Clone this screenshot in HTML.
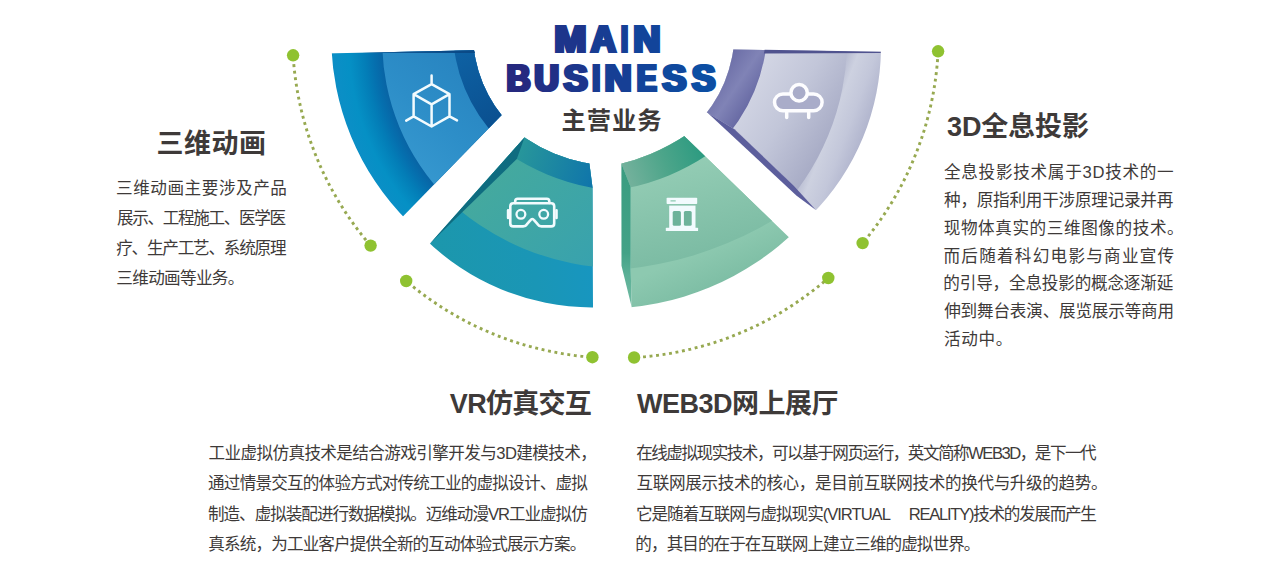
<!DOCTYPE html>
<html lang="zh-CN"><head><meta charset="utf-8"><title>MAIN BUSINESS 主营业务</title>
<style>
html,body{margin:0;padding:0;background:#fff}
body{width:1280px;height:580px;position:relative;overflow:hidden;font-family:"Liberation Sans",sans-serif}
svg{position:absolute;left:0;top:0;display:block}
.t{position:absolute;color:transparent;white-space:normal;overflow:hidden;margin:0}
</style></head><body>
<svg width="1280" height="580" viewBox="0 0 1280 580">
<defs>
<clipPath id="w1"><polygon points="566.6,48.4 190.0,56.5 150.0,420.0 282.1,340.5"/></clipPath>
<radialGradient id="g1o" gradientUnits="userSpaceOnUse" cx="606.7" cy="40.8" r="282"><stop offset="0.7961" stop-color="#0864a5"/><stop offset="0.8262" stop-color="#056fae"/><stop offset="0.8582" stop-color="#037db7"/><stop offset="0.8865" stop-color="#0487be"/><stop offset="0.9149" stop-color="#0590c5"/><stop offset="0.9574" stop-color="#0a8fc6"/><stop offset="1.0000" stop-color="#0e8cc4"/></radialGradient>
<linearGradient id="g1m" gradientUnits="userSpaceOnUse" x1="490" y1="80" x2="395" y2="190"><stop offset="0" stop-color="#2884c0"/><stop offset="0.45" stop-color="#2d8ec8"/><stop offset="1" stop-color="#3a9cd2"/></linearGradient>
<linearGradient id="g1i" gradientUnits="userSpaceOnUse" x1="455" y1="50" x2="500" y2="125"><stop offset="0" stop-color="#0e62a4"/><stop offset="1" stop-color="#0a4f8f"/></linearGradient>
<clipPath id="w2"><polygon points="552.9,105.7 335.5,349.7 593.0,420.0 593.0,308.0 592.5,187.6 589.4,163.4 586.8,143.0"/></clipPath>
<linearGradient id="g2o" gradientUnits="userSpaceOnUse" x1="440" y1="290" x2="600" y2="270"><stop offset="0" stop-color="#1c97ac"/><stop offset="0.6" stop-color="#1a96b6"/><stop offset="1" stop-color="#1796c1"/></linearGradient>
<linearGradient id="g2m" gradientUnits="userSpaceOnUse" x1="480" y1="160" x2="590" y2="270"><stop offset="0" stop-color="#46aa9c"/><stop offset="1" stop-color="#38a2ae"/></linearGradient>
<linearGradient id="g2i" gradientUnits="userSpaceOnUse" x1="517" y1="150" x2="593" y2="175"><stop offset="0" stop-color="#28979a"/><stop offset="1" stop-color="#1076aa"/></linearGradient>
<clipPath id="w3"><polygon points="621.4,163.5 630.7,187.0 630.7,268.0 631.6,306.8 631.6,340.0 841.3,340.0 841.3,287.9 663.8,116.2 621.4,116.2"/></clipPath>
<linearGradient id="g3o" gradientUnits="userSpaceOnUse" x1="700" y1="250" x2="720" y2="295"><stop offset="0" stop-color="#8dc9b0"/><stop offset="1" stop-color="#7abba2"/></linearGradient>
<linearGradient id="g3m" gradientUnits="userSpaceOnUse" x1="690" y1="160" x2="715" y2="255"><stop offset="0" stop-color="#93ccb4"/><stop offset="1" stop-color="#7bbba3"/></linearGradient>
<linearGradient id="g3i" gradientUnits="userSpaceOnUse" x1="625" y1="180" x2="705" y2="150"><stop offset="0" stop-color="#76b29d"/><stop offset="0.5" stop-color="#4da58a"/><stop offset="1" stop-color="#2a9a80"/></linearGradient>
<linearGradient id="g3s" gradientUnits="userSpaceOnUse" x1="0" y1="165" x2="0" y2="307"><stop offset="0" stop-color="#3a9c80"/><stop offset="0.62" stop-color="#43a287"/><stop offset="0.78" stop-color="#5cb097"/><stop offset="1" stop-color="#72bba3"/></linearGradient>
<clipPath id="w4"><polygon points="689.0,48.8 910.4,52.3 910.0,262.0 850.0,262.0 816.2,210.3 794.1,185.9 734.5,129.3 707.8,112.9 689.1,101.4"/></clipPath>
<linearGradient id="g4o" gradientUnits="userSpaceOnUse" x1="815" y1="120" x2="868" y2="140"><stop offset="0" stop-color="#abafc8"/><stop offset="0.3" stop-color="#cdd1e0"/><stop offset="0.6" stop-color="#c3c7da"/><stop offset="1" stop-color="#acb0ca"/></linearGradient>
<linearGradient id="g4m" gradientUnits="userSpaceOnUse" x1="745" y1="80" x2="835" y2="135"><stop offset="0" stop-color="#d4d7e5"/><stop offset="0.5" stop-color="#c2c6d9"/><stop offset="1" stop-color="#a7abc5"/></linearGradient>
<linearGradient id="g4i" gradientUnits="userSpaceOnUse" x1="715" y1="70" x2="760" y2="100"><stop offset="0" stop-color="#686aa4"/><stop offset="0.5" stop-color="#8083b6"/><stop offset="1" stop-color="#61639f"/></linearGradient>
<linearGradient id="gt" gradientUnits="userSpaceOnUse" x1="508" y1="0" x2="717" y2="0"><stop offset="0" stop-color="#27267d"/><stop offset="0.45" stop-color="#183c92"/><stop offset="1" stop-color="#0a50a5"/></linearGradient>
</defs>
<rect width="1280" height="580" fill="#fff"/>
<g clip-path="url(#w1)"><path fill-rule="evenodd" d="M331.2 36.6a261.0 261.0 0 1 0 522.0 0a261.0 261.0 0 1 0 -522.0 0ZM473.0 33.9a129.1 129.1 0 1 0 258.2 0a129.1 129.1 0 1 0 -258.2 0Z" fill="url(#g1o)"/><path fill-rule="evenodd" d="M382.2 40.8a224.5 224.5 0 1 0 449.0 0a224.5 224.5 0 1 0 -449.0 0ZM473.0 33.9a129.1 129.1 0 1 0 258.2 0a129.1 129.1 0 1 0 -258.2 0Z" fill="url(#g1m)"/><path fill-rule="evenodd" d="M452.9 29.0a155.7 155.7 0 1 0 311.4 0a155.7 155.7 0 1 0 -311.4 0ZM473.0 33.9a129.1 129.1 0 1 0 258.2 0a129.1 129.1 0 1 0 -258.2 0Z" fill="url(#g1i)"/></g>
<polygon points="362.0,52.8 474.0,50.3 475.0,53.1" fill="#0a4a87"/>
<g clip-path="url(#w2)"><path fill-rule="evenodd" d="M354.1 69.5a237.9 237.9 0 1 0 475.8 0a237.9 237.9 0 1 0 -475.8 0ZM457.0 8.3a157.1 157.1 0 1 0 314.2 0a157.1 157.1 0 1 0 -314.2 0Z" fill="url(#g2o)"/><path fill-rule="evenodd" d="M366.2 12.7a255.4 255.4 0 1 0 510.8 0a255.4 255.4 0 1 0 -510.8 0ZM457.0 8.3a157.1 157.1 0 1 0 314.2 0a157.1 157.1 0 1 0 -314.2 0Z" fill="url(#g2m)"/><path fill-rule="evenodd" d="M410.7 -29.6a220.9 220.9 0 1 0 441.8 0a220.9 220.9 0 1 0 -441.8 0ZM457.0 8.3a157.1 157.1 0 1 0 314.2 0a157.1 157.1 0 1 0 -314.2 0Z" fill="url(#g2i)"/></g>
<polygon points="524.5,137.5 516.8,159.0 430.0,243.6" fill="#0f6c80"/>
<g clip-path="url(#w3)"><path fill-rule="evenodd" d="M328.1 32.8a275.7 275.7 0 1 0 551.4 0a275.7 275.7 0 1 0 -551.4 0ZM358.8 -40.4a210.6 210.6 0 1 0 421.2 0a210.6 210.6 0 1 0 -421.2 0Z" fill="url(#g3o)"/><path fill-rule="evenodd" d="M222.5 -93.8a364.9 364.9 0 1 0 729.8 0a364.9 364.9 0 1 0 -729.8 0ZM358.8 -40.4a210.6 210.6 0 1 0 421.2 0a210.6 210.6 0 1 0 -421.2 0Z" fill="url(#g3m)"/><path fill-rule="evenodd" d="M360.2 -30.9a223.3 223.3 0 1 0 446.6 0a223.3 223.3 0 1 0 -446.6 0ZM358.8 -40.4a210.6 210.6 0 1 0 421.2 0a210.6 210.6 0 1 0 -421.2 0Z" fill="url(#g3i)"/></g>
<polygon points="621.4,163.5 630.7,187.0 630.7,268.0 631.6,306.8 621.5,265.7" fill="url(#g3s)"/>
<g clip-path="url(#w4)"><path fill-rule="evenodd" d="M404.2 46.4a238.4 238.4 0 1 0 476.8 0a238.4 238.4 0 1 0 -476.8 0ZM469.5 31.7a132.5 132.5 0 1 0 265.0 0a132.5 132.5 0 1 0 -265.0 0Z" fill="url(#g4o)"/><path fill-rule="evenodd" d="M347.3 40.2a249.9 249.9 0 1 0 499.8 0a249.9 249.9 0 1 0 -499.8 0ZM469.5 31.7a132.5 132.5 0 1 0 265.0 0a132.5 132.5 0 1 0 -265.0 0Z" fill="url(#g4m)"/><path fill-rule="evenodd" d="M419.5 24.4a174.1 174.1 0 1 0 348.2 0a174.1 174.1 0 1 0 -348.2 0ZM469.5 31.7a132.5 132.5 0 1 0 265.0 0a132.5 132.5 0 1 0 -265.0 0Z" fill="url(#g4i)"/></g>
<polygon points="707.8,112.9 734.5,129.3 794.1,185.9 816.2,210.3 796.6,195.7" fill="#5c5e9c"/>
<polygon points="764.6,49.7 880.9,51.8 880.6,53.1 763.9,53.5" fill="#50538f"/>
<path d="M293.1 55.3A323.0 323.0 0 0 0 370.6 245.6" fill="none" stroke="#97a951" stroke-width="2.9" stroke-dasharray="2.9 3.65" stroke-dashoffset="-9"/>
<circle cx="293.1" cy="55.3" r="6.2" fill="#8fc231"/>
<circle cx="370.6" cy="245.6" r="6.2" fill="#8fc231"/>
<path d="M406.2 281.0A323.0 323.0 0 0 0 592.4 357.2" fill="none" stroke="#97a951" stroke-width="2.9" stroke-dasharray="2.9 3.65" stroke-dashoffset="-9"/>
<circle cx="406.2" cy="281.0" r="6.2" fill="#8fc231"/>
<circle cx="592.4" cy="357.2" r="6.2" fill="#8fc231"/>
<path d="M634.1 357.5A323.0 323.0 0 0 0 828.3 278.0" fill="none" stroke="#97a951" stroke-width="2.9" stroke-dasharray="2.9 3.65" stroke-dashoffset="-9"/>
<circle cx="634.1" cy="357.5" r="6.2" fill="#8fc231"/>
<circle cx="828.3" cy="278.0" r="6.2" fill="#8fc231"/>
<path d="M862.6 243.1A323.0 323.0 0 0 0 938.1 51.3" fill="none" stroke="#97a951" stroke-width="2.9" stroke-dasharray="2.9 3.65" stroke-dashoffset="-9"/>
<circle cx="862.6" cy="243.1" r="6.2" fill="#8fc231"/>
<circle cx="938.1" cy="51.3" r="6.2" fill="#8fc231"/>
<g fill="none" stroke="#f2fbfe" stroke-width="2.5" stroke-linecap="round" stroke-linejoin="round"><path d="M431.6 84.1L449.5 94.2V116.3L431.6 126.5L413.6 116.3V94.2ZM413.6 94.2L431.6 104.4L449.5 94.2M431.6 104.4V126.5M431.6 75.4V84.1M413.6 116.3L406.2 120.6M449.5 116.3L457 120.4"/></g>
<g fill="none" stroke="#f2fbfe" stroke-width="2.6" stroke-linejoin="round" stroke-linecap="round"><path d="M513.3 203.3H551.2Q554.2 203.3 554.2 206.3V223.4Q554.2 226.4 551.2 226.4H541.5Q539 226.4 537.6 224.2L534.3 220.4Q532.3 217.6 530.3 220.4L527 224.2Q525.6 226.4 523.1 226.4H513.3Q510.3 226.4 510.3 223.4V206.3Q510.3 203.3 513.3 203.3Z"/><path d="M515.2 203V201.2Q515.2 198.7 517.7 198.7H546.8Q549.3 198.7 549.3 201.2V203"/><path d="M508.1 210.3V218M556.5 210.3V218"/><circle cx="520.9" cy="214.3" r="4.4" stroke-width="2.3"/><circle cx="543.7" cy="214.3" r="4.4" stroke-width="2.3"/></g>
<g fill="#f2fbfe"><rect x="666.6" y="197.8" width="30.6" height="6.2" rx="0.8"/><rect x="669.2" y="205.6" width="26.3" height="22.6"/><rect x="665.8" y="227.8" width="32.3" height="3.2" rx="0.6"/></g><rect x="670.5" y="200.1" width="5.2" height="1.5" fill="#9fd2be"/><rect x="672.7" y="211.1" width="8.2" height="14.7" rx="1.5" fill="#6db39b"/><rect x="683.9" y="211.1" width="7.8" height="14.7" rx="1.5" fill="#6db39b"/>
<g stroke="#fdfdff" stroke-width="3.5" fill="#a9acc9" stroke-linecap="round"><rect x="774.5" y="93.9" width="47.6" height="16.9" rx="8.45"/><circle cx="799.1" cy="92.8" r="8.2"/><path d="M786.7 112.4V117.6M808.7 112.4V117.6" fill="none"/></g>
<g font-family="Liberation Sans, sans-serif" font-weight="700" font-size="36.3" stroke-width="2.2" stroke-linejoin="miter" stroke-miterlimit="2.5"><text id="t1" y="51.9"><tspan x="553.50" textLength="31.79" lengthAdjust="spacingAndGlyphs" fill="#1d358b" stroke="#1d358b">M</tspan><tspan x="589.99" textLength="24.78" lengthAdjust="spacingAndGlyphs" fill="#183d93" stroke="#183d93">A</tspan><tspan x="620.21" textLength="6.79" lengthAdjust="spacingAndGlyphs" fill="#154096" stroke="#154096">I</tspan><tspan x="632.54" textLength="26.84" lengthAdjust="spacingAndGlyphs" fill="#12449a" stroke="#12449a">N</tspan></text><use href="#t1" x="1.9"/><text id="t2" y="90.8"><tspan x="505.69" textLength="23.91" lengthAdjust="spacingAndGlyphs" fill="#25297f" stroke="#25297f">B</tspan><tspan x="533.50" textLength="24.34" lengthAdjust="spacingAndGlyphs" fill="#212f86" stroke="#212f86">U</tspan><tspan x="562.85" textLength="23.76" lengthAdjust="spacingAndGlyphs" fill="#1c368c" stroke="#1c368c">S</tspan><tspan x="591.62" textLength="7.47" lengthAdjust="spacingAndGlyphs" fill="#193b91" stroke="#193b91">I</tspan><tspan x="603.85" textLength="26.73" lengthAdjust="spacingAndGlyphs" fill="#163f95" stroke="#163f95">N</tspan><tspan x="636.03" textLength="19.53" lengthAdjust="spacingAndGlyphs" fill="#12449a" stroke="#12449a">E</tspan><tspan x="661.55" textLength="23.76" lengthAdjust="spacingAndGlyphs" fill="#0f499e" stroke="#0f499e">S</tspan><tspan x="691.05" textLength="23.25" lengthAdjust="spacingAndGlyphs" fill="#0c4ea3" stroke="#0c4ea3">S</tspan></text><use href="#t2" x="1.9"/></g>
<g fill="#3e3a39" font-family="'Liberation Sans','Noto Sans CJK SC',sans-serif">
<g font-size="27" font-weight="bold">
<text x="156.6" y="152.8" textLength="109.4">三维动画</text>
<text x="947" y="135.7" textLength="141.9">3D全息投影</text>
<text x="449.83" y="413.2" textLength="142">VR仿真交互</text>
<text x="636.89" y="413.2" textLength="201.7">WEB3D网上展厅</text>
</g>
<text x="561.61" y="128.6" font-size="24.3" font-weight="bold" textLength="99.9">主营业务</text>
<g font-size="16.6">
<text x="116.02" y="193.6" textLength="170.9">三维动画主要涉及产品</text>
<text x="116.89" y="223.8" textLength="169.1">展示、工程施工、医学医</text>
<text x="116.19" y="254" textLength="170.4">疗、生产工艺、系统原理</text>
<text x="116.32" y="284.2" textLength="128">三维动画等业务。</text>
<text x="943.97" y="178" textLength="229.7">全息投影技术属于3D技术的一</text>
<text x="944.02" y="205.87" textLength="229.3">种，原指利用干涉原理记录并再</text>
<text x="943.69" y="233.74" textLength="240">现物体真实的三维图像的技术。</text>
<text x="943.5" y="261.61" textLength="230.7">而后随着科幻电影与商业宣传</text>
<text x="943.36" y="289.48" textLength="229.9">的引导，全息投影的概念逐渐延</text>
<text x="944.13" y="317.35" textLength="230">伸到舞台表演、展览展示等商用</text>
<text x="944.1" y="345.22" textLength="68.3">活动中。</text>
<text x="208.44" y="459.2" textLength="388.4">工业虚拟仿真技术是结合游戏引擎开发与3D建模技术，</text>
<text x="208.05" y="489.4" textLength="379.8">通过情景交互的体验方式对传统工业的虚拟设计、虚拟</text>
<text x="208.02" y="519.6" textLength="379.7">制造、虚拟装配进行数据模拟。迈维动漫VR工业虚拟仿</text>
<text x="208.35" y="549.8" textLength="378">真系统，为工业客户提供全新的互动体验式展示方案。</text>
<text x="636.17" y="459.2" textLength="460.5">在线虚拟现实技术，可以基于网页运行，英文简称WEB3D，是下一代</text>
<text x="636.52" y="489.4" textLength="471.1">互联网展示技术的核心，是目前互联网技术的换代与升级的趋势。</text>
<text x="635.97" y="519.6" textLength="254.9">它是随着互联网与虚拟现实(VIRTUAL</text>
<text x="908.82" y="519.6" textLength="188">REALITY)技术的发展而产生</text>
<text x="635.36" y="549.8" textLength="345">的，其目的在于在互联网上建立三维的虚拟世界。</text>
</g>
</g>
</svg>
<div class="t" style="left:158px;top:124px;width:110px;font-size:27px;line-height:36px;font-weight:bold;">三维动画</div>
<div class="t" style="left:117px;top:176px;width:172px;font-size:16.6px;line-height:30.2px;">三维动画主要涉及产品展示、工程施工、医学医疗、生产工艺、系统原理三维动画等业务。</div>
<div class="t" style="left:947px;top:107px;width:160px;font-size:27px;line-height:36px;font-weight:bold;">3D全息投影</div>
<div class="t" style="left:944px;top:162px;width:230px;font-size:16.6px;line-height:28.1px;">全息投影技术属于3D技术的一种，原指利用干涉原理记录并再现物体真实的三维图像的技术。而后随着科幻电影与商业宣传的引导，全息投影的概念逐渐延伸到舞台表演、展览展示等商用活动中。</div>
<div class="t" style="left:440px;top:384px;width:152px;font-size:27px;line-height:36px;font-weight:bold;text-align:right;">VR仿真交互</div>
<div class="t" style="left:209px;top:442px;width:380px;font-size:16.6px;line-height:30.2px;">工业虚拟仿真技术是结合游戏引擎开发与3D建模技术，通过情景交互的体验方式对传统工业的虚拟设计、虚拟制造、虚拟装配进行数据模拟。迈维动漫VR工业虚拟仿真系统，为工业客户提供全新的互动体验式展示方案。</div>
<div class="t" style="left:637px;top:384px;width:220px;font-size:27px;line-height:36px;font-weight:bold;">WEB3D网上展厅</div>
<div class="t" style="left:637px;top:442px;width:462px;font-size:16.6px;line-height:30.2px;">在线虚拟现实技术，可以基于网页运行，英文简称WEB3D，是下一代互联网展示技术的核心，是目前互联网技术的换代与升级的趋势。它是随着互联网与虚拟现实(VIRTUAL REALITY)技术的发展而产生的，其目的在于在互联网上建立三维的虚拟世界。</div>
<div class="t" style="left:563px;top:104px;width:100px;font-size:24.5px;line-height:30px;font-weight:bold;">主营业务</div>
</body></html>
